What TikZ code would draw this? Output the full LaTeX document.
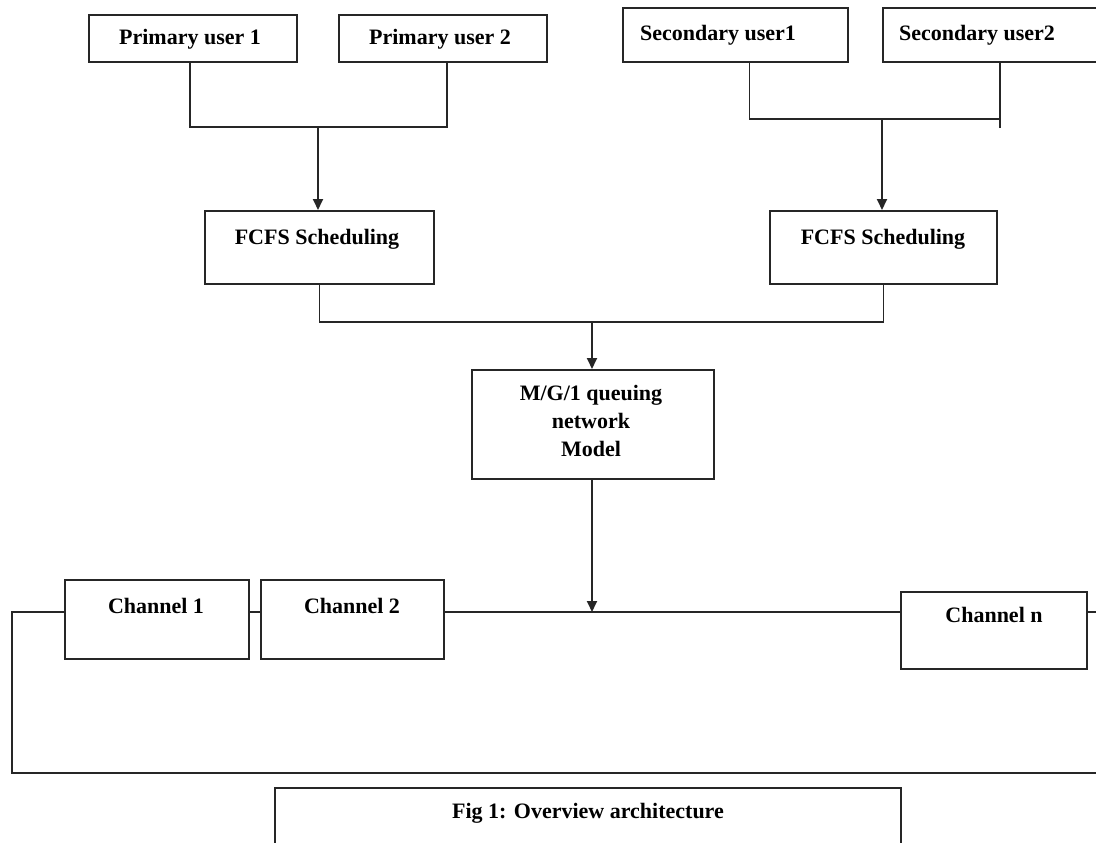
\documentclass[tikz,border=0pt]{standalone}
\usepackage{fontspec}
\setmainfont{Liberation Serif}
\usetikzlibrary{arrows.meta}
\begin{document}
\begin{tikzpicture}[x=1pt,y=-1pt,
  box/.style={draw=black!85, line width=1.8pt, inner sep=0pt, anchor=north west},
  txt/.style={font=\fontsize{22}{28}\selectfont\bfseries, inner sep=0pt, anchor=base},
  wire/.style={draw=black!85, line width=1.8pt},
  arr/.style={wire, -{Triangle[length=11pt,width=10pt]}}]
\useasboundingbox (0,0) rectangle (1096,843);
% boxes
\node[box, minimum width=208pt, minimum height=47pt] (pu1) at (88,14) {};
\node[box, minimum width=208pt, minimum height=47pt] (pu2) at (338,14) {};
\node[box, minimum width=225pt, minimum height=54pt] (su1) at (622,7) {};
\node[box, minimum width=230pt, minimum height=54pt] (su2) at (882,7) {};
\node[box, minimum width=229pt, minimum height=73pt] (fc1) at (204,210) {};
\node[box, minimum width=227pt, minimum height=73pt] (fc2) at (769,210) {};
\node[box, minimum width=242pt, minimum height=109pt] (mg) at (471,369) {};
\node[box, minimum width=184pt, minimum height=79pt] (ch1) at (64,579) {};
\node[box, minimum width=183pt, minimum height=79pt] (ch2) at (260,579) {};
\node[box, minimum width=186pt, minimum height=77pt] (chn) at (900,591) {};
\node[box, minimum width=626pt, minimum height=70pt] (cap) at (274,787) {};
% texts
\node[txt] (tpu1) at (190,45) {Primary user 1};
\node[txt] (tpu2) at (440,45) {Primary user 2};
\node[txt] (tsu1) at (718,41) {Secondary user1};
\node[txt] (tsu2) at (977,41) {Secondary user2};
\node[txt] (tfc1) at (317,244) {FCFS Scheduling};
\node[txt] (tfc2) at (883,244) {FCFS Scheduling};
\node[txt, align=center, anchor=center] (tmg) at (591,421) {M/G/1 queuing\\network\\Model};
\node[txt] (tch1) at (156,613) {Channel 1};
\node[txt] (tch2) at (352,613) {Channel 2};
\node[txt] (tchn) at (994,622) {Channel n};
\node[txt] (tcap) at (588,818) {Fig 1: Overview architecture};
% junctions
\coordinate (j1) at (318,127);
\coordinate (j2) at (882,119);
\coordinate (su2l) at (1000,128);
\coordinate (j3) at (592,322);
\coordinate (j4) at (592,612);
\coordinate (lt) at (12,612);
\coordinate (lb) at (12,773);
\coordinate (rb) at (1100,773);
\coordinate (rt) at (1100,612);
% connectors
\draw[wire] ([xshift=-3pt]pu1.south) |- (j1) -| ([xshift=4pt]pu2.south);
\draw[arr] (j1) -- (j1 |- fc1.north);
\draw[wire] ([xshift=14pt]su1.south) |- (j2) -| (su2l);
\draw[wire] (su2l) -- (su2l |- su2.south);
\draw[arr] (j2) -- (j2 |- fc2.north);
\draw[wire] (fc1.south) |- (j3) -| (fc2.south);
\draw[arr] (j3) -- (j3 |- mg.north);
\draw[arr] (j3 |- mg.south) -- (j4);
\draw[wire] (ch1.west |- j4) -- (lt) -- (lb) -- (rb);
\draw[wire] (ch1.east |- j4) -- (ch2.west |- j4);
\draw[wire] (ch2.east |- j4) -- (chn.west |- j4);
\draw[wire] (chn.east |- j4) -- (rt);
\end{tikzpicture}
\end{document}
